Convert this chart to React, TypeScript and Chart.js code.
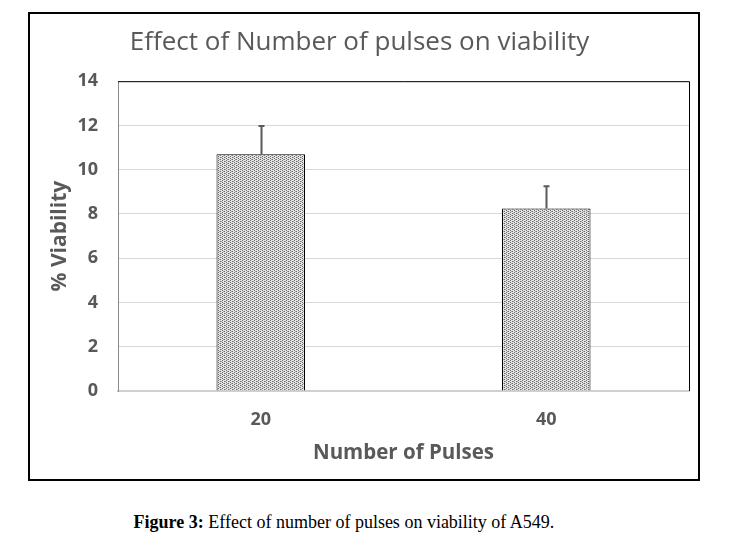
import React, { useEffect, useRef } from "react";
import { Chart, registerables } from "chart.js";

Chart.register(...registerables);

const categories = ["20", "40"];
const viability = [10.7, 8.25];
const viabilityErr = [1.27, 1.0];
const yTicks = [0, 2, 4, 6, 8, 10, 12, 14];

const TEXT = "#595959";

function makePattern(): CanvasPattern | string {
  const c = document.createElement("canvas");
  c.width = 4;
  c.height = 4;
  const g = c.getContext("2d");
  if (!g) return "#bdbdbd";
  g.fillStyle = "#e4e4e4";
  g.fillRect(0, 0, 4, 4);
  g.fillStyle = "#6a6a6a";
  g.fillRect(0, 0, 1, 1);
  g.fillRect(0, 2, 1, 1);
  g.fillRect(2, 1, 1, 1);
  g.fillRect(2, 3, 1, 1);
  g.fillStyle = "#a8a8a8";
  g.fillRect(1, 1, 1, 1);
  g.fillRect(3, 3, 1, 1);
  const p = g.createPattern(c, "repeat");
  return p || "#bdbdbd";
}

const errorBarPlugin = {
  id: "errorBars",
  afterDatasetsDraw(chart: any) {
    const { ctx } = chart;
    const meta = chart.getDatasetMeta(0);
    const y = chart.scales.y;
    ctx.save();
    ctx.strokeStyle = "#5a5a5a";
    ctx.lineWidth = 2;
    meta.data.forEach((bar: any, i: number) => {
      const x = Math.round(bar.x) + 0.5;
      const yTop = y.getPixelForValue(viability[i] + viabilityErr[i]);
      const yBase = y.getPixelForValue(viability[i]);
      ctx.beginPath();
      ctx.moveTo(x, yBase);
      ctx.lineTo(x, yTop);
      ctx.moveTo(x - 3, yTop);
      ctx.lineTo(x + 3, yTop);
      ctx.stroke();
    });
    ctx.restore();
  },
};

const plotBorderPlugin = {
  id: "plotBorder",
  afterDraw(chart: any) {
    const { ctx, chartArea: a } = chart;
    ctx.save();
    ctx.strokeStyle = "#000";
    ctx.lineWidth = 1;
    ctx.beginPath();
    ctx.moveTo(a.left, a.top + 0.5);
    ctx.lineTo(a.right + 0.5, a.top + 0.5);
    ctx.lineTo(a.right + 0.5, a.bottom);
    ctx.stroke();
    ctx.restore();
  },
};

function App() {
  const ref = useRef<HTMLCanvasElement | null>(null);
  useEffect(() => {
    if (!ref.current) return;
    const chart = new Chart(ref.current, {
      type: "bar",
      data: {
        labels: categories,
        datasets: [
          {
            data: viability,
            backgroundColor: makePattern() as any,
            borderColor: "#000",
            borderWidth: 1,
            barPercentage: 0.31,
            categoryPercentage: 1,
          },
        ],
      },
      options: {
        animation: false,
        responsive: false,
        devicePixelRatio: 1,
        layout: { padding: { left: 0, right: 9, top: 0, bottom: 0 } },
        plugins: {
          legend: { display: false },
          tooltip: { enabled: false },
          title: {
            display: true,
            text: "Effect of Number of pulses on viability",
            color: TEXT,
            font: { family: "'Open Sans'", size: 26, weight: "normal" },
            padding: { top: 13, bottom: 23 },
          },
        },
        scales: {
          x: {
            grid: { display: false, drawTicks: false },
            border: { color: "#d0d0d0", width: 2 },
            ticks: {
              color: TEXT,
              padding: 18,
              font: { family: "'Open Sans'", size: 18, weight: "bold" },
            },
            title: {
              display: true,
              text: "Number of Pulses",
              color: TEXT,
              font: { family: "'Open Sans'", size: 20.5, weight: "bold" },
              padding: { top: 0, bottom: 14 },
            },
            afterFit(scale: any) {
              scale.height = 88;
            },
          },
          y: {
            min: 0,
            max: 14,
            afterBuildTicks(scale: any) {
              scale.ticks = yTicks.map((v) => ({ value: v }));
            },
            grid: { color: "#d9d9d9", lineWidth: 1, drawTicks: false },
            border: { color: "#8c8c8c", width: 1 },
            ticks: {
              color: TEXT,
              padding: 20,
              font: { family: "'Open Sans'", size: 18, weight: "bold" },
            },
            title: {
              display: true,
              text: "% Viability",
              color: TEXT,
              font: { family: "'Open Sans'", size: 21, weight: "bold" },
              padding: { top: 17, bottom: 0 },
            },
            afterFit(scale: any) {
              scale.width = 88;
            },
          },
        },
      },
      plugins: [errorBarPlugin, plotBorderPlugin],
    });
    return () => chart.destroy();
  }, []);

  return (
    <div
      style={{
        position: "absolute",
        left: 0,
        top: 0,
        width: 731,
        height: 548,
        background: "#fff",
      }}
    >
      <div
        style={{
          position: "absolute",
          left: 28,
          top: 12,
          width: 668,
          height: 465,
          border: "2px solid #000",
        }}
      >
        <canvas ref={ref} width={668} height={465} style={{ display: "block" }} />
      </div>
      <div
        style={{
          position: "absolute",
          left: 0,
          top: 512,
          width: 688,
          textAlign: "center",
          fontFamily: "'Liberation Serif', 'Times New Roman', serif",
          fontSize: 18,
          lineHeight: "20px",
          color: "#000",
        }}
      >
        <b>Figure 3:</b> Effect of number of pulses on viability of A549.
      </div>
    </div>
  );
}

export default App;
